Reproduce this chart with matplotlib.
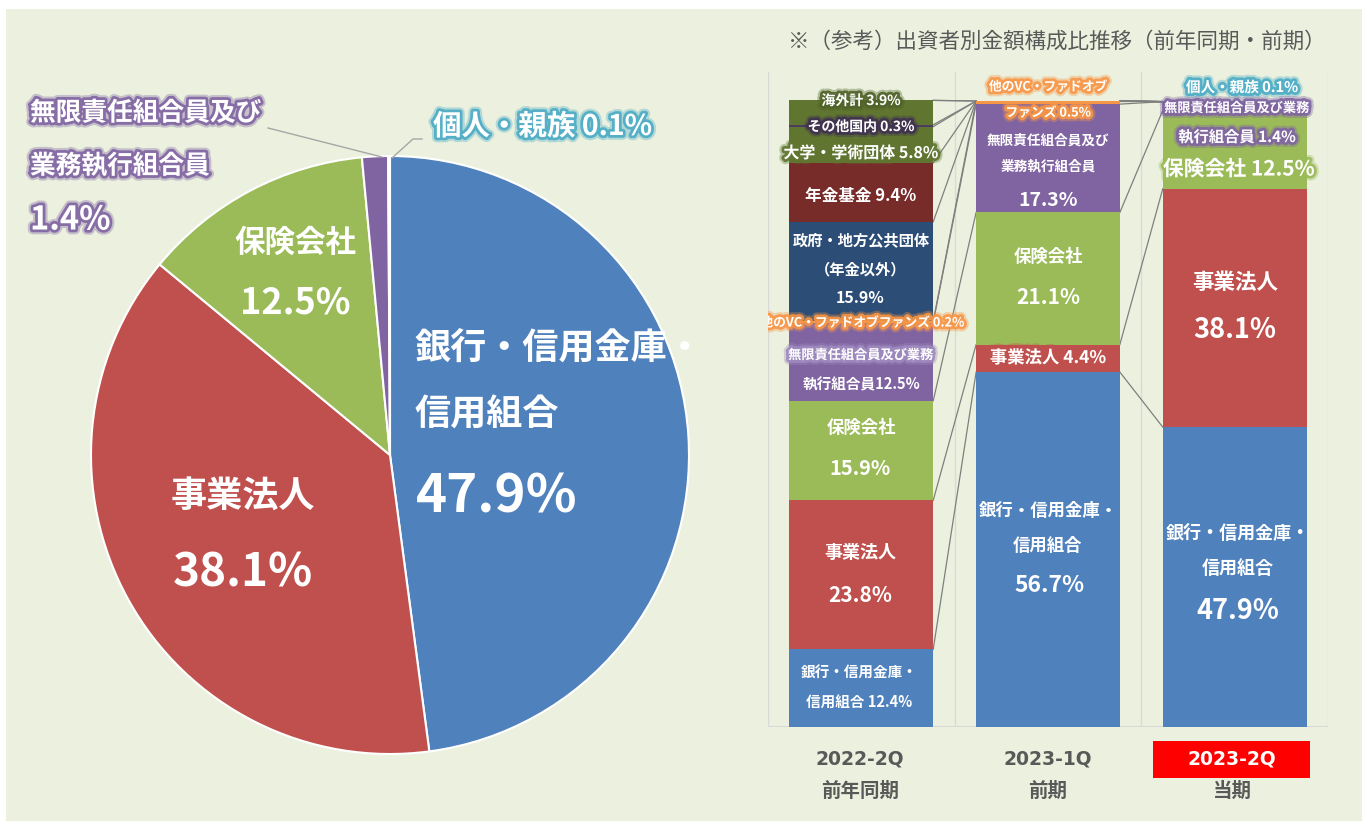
import matplotlib
matplotlib.use("Agg")
import matplotlib.pyplot as plt
import matplotlib.patheffects as pe
from matplotlib.lines import Line2D
from matplotlib.patches import Rectangle
import numpy as np

plt.rcParams["font.family"] = ["Noto Sans CJK JP", "DejaVu Sans"]

# ---- data -------------------------------------------------------------
pie_labels = ["銀行・信用金庫・信用組合", "事業法人", "保険会社",
              "無限責任組合員及び業務執行組合員", "個人・親族"]
pie_values = [47.9, 38.1, 12.5, 1.4, 0.1]
pie_colors = ["#4F81BD", "#C0504D", "#9BBB59", "#8064A2", "#4BACC6"]

periods = ["2022-2Q", "2023-1Q", "2023-2Q"]
period_notes = ["前年同期", "前期", "当期"]

categories = ["銀行・信用金庫・信用組合", "事業法人", "保険会社",
              "無限責任組合員及び業務執行組合員", "他のVC・ファドオブファンズ",
              "政府・地方公共団体（年金以外）", "年金基金", "大学・学術団体",
              "その他国内", "海外計", "個人・親族"]
cat_colors = ["#4F81BD", "#C0504D", "#9BBB59", "#8064A2", "#F79646",
              "#2C4D75", "#772C2A", "#5F7530", "#4D3B62", "#5F7530", "#4BACC6"]
share_2022_2q = [12.4, 23.8, 15.9, 12.5, 0.2, 15.9, 9.4, 5.8, 0.3, 3.9, 0.0]
share_2023_1q = [56.7, 4.4, 21.1, 17.3, 0.5, 0.0, 0.0, 0.0, 0.0, 0.0, 0.0]
share_2023_2q = [47.9, 38.1, 12.5, 1.4, 0.0, 0.0, 0.0, 0.0, 0.0, 0.0, 0.1]

W, H = 1362, 821
BG = "#EBF1DE"
GREY = "#595959"

fig = plt.figure(figsize=(W / 100, H / 100), dpi=100)
fig.patch.set_facecolor("white")
fig.patches.append(Rectangle((6 / W, 0), 1 - 6 / W, 1 - 9 / H,
                             transform=fig.transFigure, fc=BG, ec="none",
                             zorder=-10))


def fx(x, y):
    return x / W, 1 - y / H


def glow(color):
    return [pe.Stroke(linewidth=7, foreground=color, alpha=0.35),
            pe.Stroke(linewidth=4, foreground=color, alpha=0.9),
            pe.Normal()]


def put(x, y, s, size, color="white", halo=None, ha="center", weight="bold",
        ax=None, family=None):
    kw = dict(fontsize=size, color=color, ha=ha, va="center",
              fontweight=weight)
    if family:
        kw["family"] = family
    if halo:
        kw["path_effects"] = glow(halo)
    if ax is None:
        return fig.text(*fx(x, y), s, **kw)
    return ax.text(*fx(x, y), s, transform=fig.transFigure, clip_on=True, **kw)


# ---- pie ----------------------------------------------------------------
cx, cy, r = 390, 455, 299
ax_pie = fig.add_axes([(cx - r) / W, (H - cy - r) / H, 2 * r / W, 2 * r / H])
wedges, _ = ax_pie.pie(pie_values, colors=pie_colors, startangle=90,
                       counterclock=False,
                       wedgeprops=dict(edgecolor="white", linewidth=1.5))
for w in wedges:
    w.set_clip_on(False)
ax_pie.set_xlim(-1, 1)
ax_pie.set_ylim(-1, 1)
ax_pie.axis("off")

# leader lines
for pts in ([(382, 157), (268, 128)], [(392, 158), (413, 139), (422, 139)]):
    xs, ys = zip(*[fx(*p) for p in pts])
    fig.add_artist(Line2D(xs, ys, color="#A6A6A6", lw=1))

put(415, 348, "銀行・信用金庫・", 26, ha="left")
put(415, 415, "信用組合", 26, ha="left")
put(416, 497, "47.9%", 38, ha="left")
put(243, 497, "事業法人", 26)
put(243, 573, "38.1%", 33)
put(295, 243, "保険会社", 22)
put(295, 303, "12.5%", 26)
put(30, 113, "無限責任組合員及び", 18.5, halo="#8064A2", ha="left")
put(30, 166, "業務執行組合員", 18.5, halo="#8064A2", ha="left")
put(30, 220, "1.4%", 23.5, halo="#8064A2", ha="left")
put(433, 127, "個人・親族 0.1%", 20.5, halo="#4BACC6", ha="left")

# ---- stacked bars -------------------------------------------------------
ax = fig.add_axes([768 / W, (H - 727) / H, 560 / W, 655 / H])
ax.patch.set_visible(False)
data = np.array([share_2022_2q, share_2023_1q, share_2023_2q])
x = np.arange(len(periods))
bw = 0.77
bottoms = np.zeros(len(periods))
tops = []
for j, (cat, col) in enumerate(zip(categories, cat_colors)):
    ax.bar(x, data[:, j], bottom=bottoms, width=bw, color=col,
           linewidth=0, zorder=2, label=cat)
    bottoms = bottoms + data[:, j]
    tops.append(bottoms.copy())

# series lines between neighbouring bars
for t in tops:
    for i in range(len(periods) - 1):
        ax.plot([i + bw / 2, i + 1 - bw / 2], [t[i], t[i + 1]],
                color="#7F7F7F", lw=0.9, zorder=1)

for gx in (-0.5, 0.5, 1.5, 2.5):
    ax.axvline(gx, color="#D9D9D9", lw=1, zorder=0)
ax.axhline(0, color="#D9D9D9", lw=1.5, zorder=0)
ax.set_xlim(-0.5, 2.5)
ax.set_ylim(0, 100 * 655 / 626)
ax.axis("off")

# bar labels: 2022-2Q
put(861, 101, "海外計 3.9%", 10, halo="#4F6228", ax=ax)
put(861, 127, "その他国内 0.3%", 10, halo="#3F3151", ax=ax)
put(861, 153, "大学・学術団体 5.8%", 11.5, halo="#5F7530", ax=ax)
put(861, 196, "年金基金 9.4%", 12)
put(861, 240, "政府・地方公共団体", 11)
put(861, 269, "（年金以外）", 11)
put(860, 298, "15.9%", 11.5)
put(862, 323, "他のVC・ファドオブファンズ 0.2%", 9.2, halo="#F79646", ax=ax)
put(861, 355, "無限責任組合員及び業務", 9.5, halo="#9F8BBF")
put(861, 384, "執行組合員12.5%", 10.5)
put(861, 428, "保険会社", 12.5)
put(860, 468, "15.9%", 14.5)
put(860, 553, "事業法人", 13)
put(860, 595, "23.8%", 15)
put(859, 673, "銀行・信用金庫・", 10.5)
put(859, 703, "信用組合 12.4%", 10.5)

# bar labels: 2023-1Q
put(1048, 87, "他のVC・ファドオブ", 9.2, halo="#F79646")
put(1048, 113, "ファンズ 0.5%", 9.2, halo="#F79646")
put(1048, 141, "無限責任組合員及び", 9.8)
put(1048, 166, "業務執行組合員", 9.8)
put(1048, 200, "17.3%", 14)
put(1048, 257, "保険会社", 12.5)
put(1048, 297, "21.1%", 15)
put(1048, 358, "事業法人 4.4%", 12.5, halo="#C0504D")
put(1048, 511, "銀行・信用金庫・", 12.5)
put(1048, 546, "信用組合", 12.5)
put(1050, 585, "56.7%", 16.5)

# bar labels: 2023-2Q
put(1242, 87, "個人・親族 0.1%", 10.5, halo="#4BACC6")
put(1237, 108, "無限責任組合員及び業務", 9.5, halo="#8064A2")
put(1237, 137, "執行組合員 1.4%", 11, halo="#8064A2")
put(1239, 169, "保険会社 12.5%", 15, halo="#9BBB59")
put(1235, 282, "事業法人", 15.5)
put(1235, 330, "38.1%", 19.5)
put(1238, 533, "銀行・信用金庫・", 13)
put(1238, 568, "信用組合", 13)
put(1238, 611, "47.9%", 19.5)

# category labels under the bars
fig.add_artist(Rectangle(fx(1153, 778), 157 / W, 37 / H,
                         transform=fig.transFigure, fc="#FF0000", ec="none"))
for cx_, per, note, hi in zip((860, 1048, 1232), periods, period_notes,
                              (False, False, True)):
    put(cx_, 759, per, 13.5, color="white" if hi else GREY,
        family=["DejaVu Sans"])
    put(cx_, 791, note, 14, color=GREY)

put(1057, 42, "※（参考）出資者別金額構成比推移（前年同期・前期）", 15.5,
    color=GREY, weight="normal")

fig.savefig("out.png", dpi=100, facecolor="white")
